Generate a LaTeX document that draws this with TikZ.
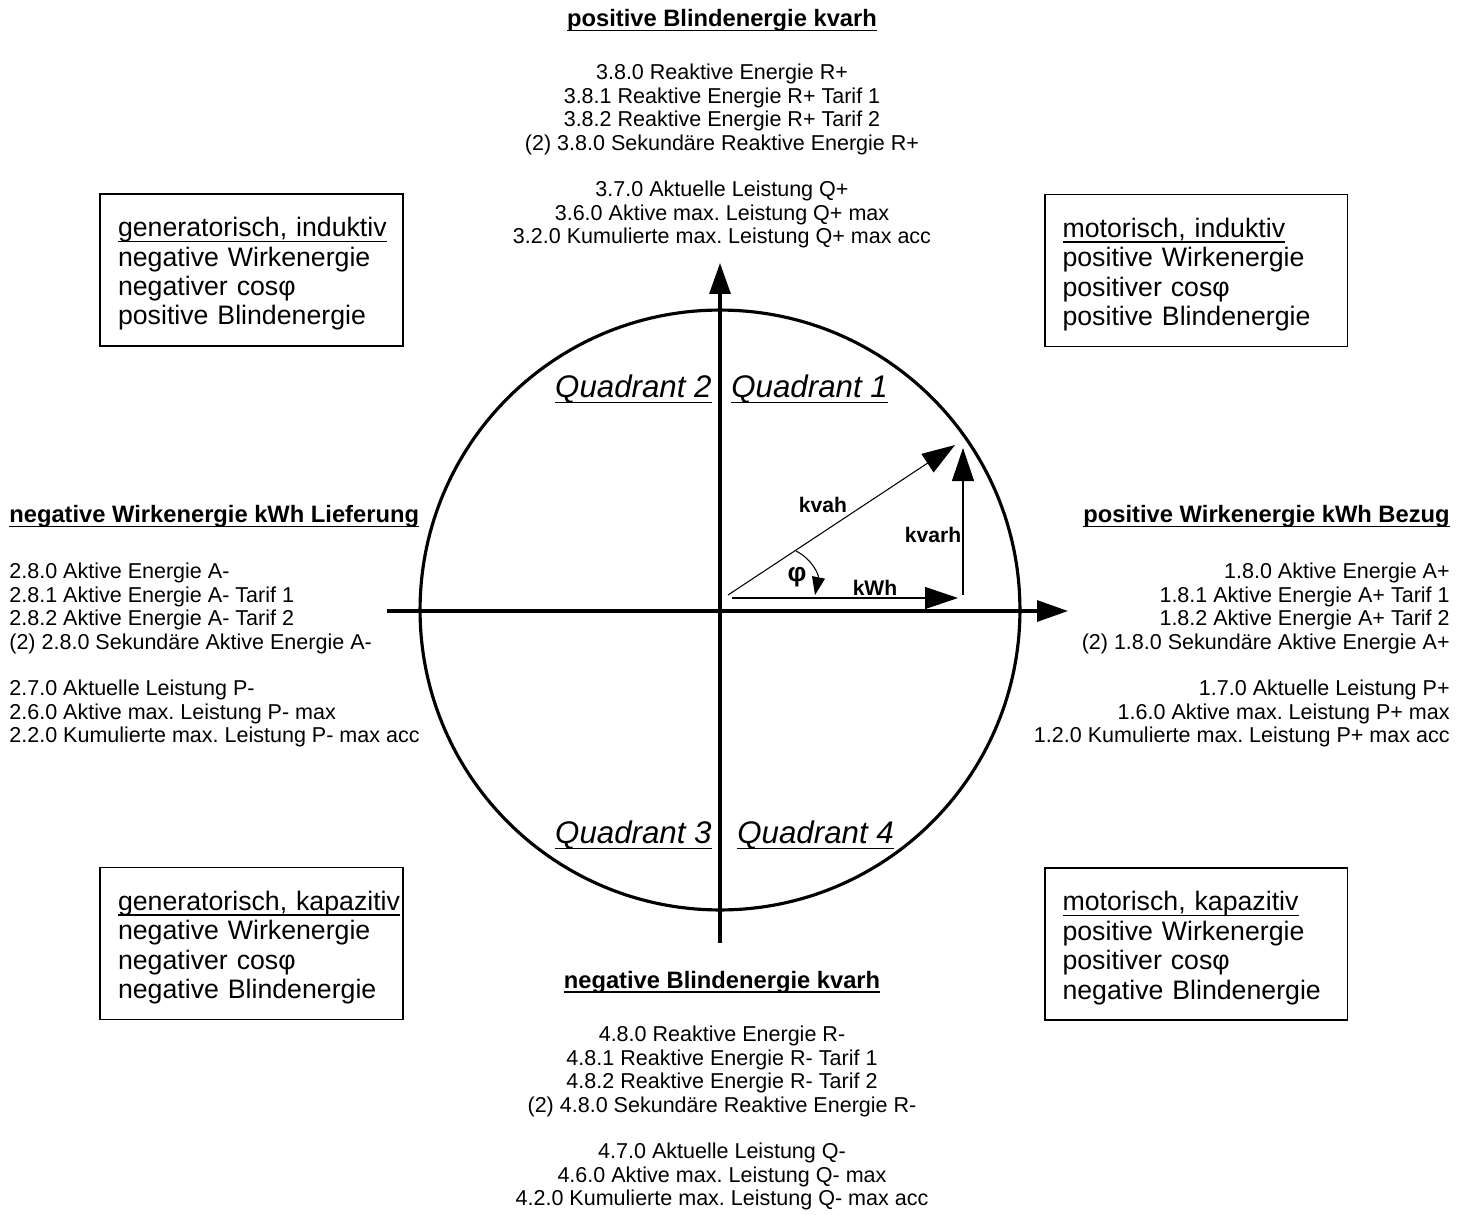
\documentclass[tikz,border=0pt]{standalone}
\usepackage{fontspec}
\setmainfont{Liberation Sans}
\usetikzlibrary{arrows.meta}
\frenchspacing

\newcommand{\ulx}[1]{\setbox0=\hbox{#1}\leavevmode\rlap{\rule[-0.19em]{\wd0}{0.8pt}}\box0}

\begin{document}
\begin{tikzpicture}[x=0.02cm, y=-0.02cm,
  achse/.style={line width=1.8pt, -{Triangle[length=0.62cm,width=0.42cm]}},
  zeiger/.style={line width=0.6pt, -{Triangle[length=0.66cm,width=0.44cm]}},
  kasten/.style={draw, line width=1.1pt, minimum width=6.06cm, minimum height=3.04cm,
    text width=5.34cm, inner xsep=0.36cm, inner ysep=0pt, align=left,
    font=\fontsize{15.2}{16.7}\selectfont},
  titel/.style={inner sep=0pt, font=\fontsize{13.5}{15.5}\bfseries\selectfont},
  liste/.style={inner sep=0pt, font=\fontsize{12.25}{13.3}\selectfont},
  quadrant/.style={inner sep=0pt, font=\fontsize{17.8}{20}\itshape\selectfont},
  wert/.style={inner sep=0pt, font=\fontsize{12}{14}\bfseries\selectfont}]
  \useasboundingbox (0,0) rectangle (1467,1214);

  \coordinate (M) at (720,610);
  \coordinate (W) at (387,611);
  \coordinate (E) at (1068,611);
  \coordinate (S) at (720,943);
  \coordinate (N) at (720,263);
  \draw[line width=1.8pt] (M) circle[radius=6cm];
  \draw[achse] (W) -- (E);
  \draw[achse] (S) -- (N);

  \coordinate (O) at (728,595);
  \coordinate (A) at (955,445);
  \coordinate (B0) at (732,598);
  \coordinate (B) at (958,598);
  \coordinate (C0) at (963,595);
  \coordinate (C) at (963,448);
  \coordinate (F0) at (796,551);
  \coordinate (F) at (815,595);
  \draw[zeiger] (O) -- (A);
  \draw[zeiger] (B0) -- (B);
  \draw[zeiger] (C0) -- (C);
  \draw[line width=0.6pt, -{Triangle[length=0.36cm,width=0.26cm]}]
    (F0) .. controls (812,559) and (819,575) .. (F);
  \node[wert] (kvah) at (823,505) {kvah};
  \node[wert] (kvarh) at (933,535) {kvarh};
  \node[wert] (kwh) at (875,588) {kWh};
  \node[wert, font=\fontsize{15}{17}\bfseries\selectfont] (phi) at (797,577) {φ};

  \node[quadrant, anchor=base east] (Q2) at (712,397) {\ulx{Quadrant 2}};
  \node[quadrant, anchor=base west] (Q1) at (731,397) {\ulx{Quadrant 1}};
  \node[quadrant, anchor=base east] (Q3) at (712,843) {\ulx{Quadrant 3}};
  \node[quadrant, anchor=base west] (Q4) at (737,843) {\ulx{Quadrant 4}};

  \node[kasten] (box2) at (251.5,270) {\rule{0pt}{1.03em}\ulx{generatorisch, induktiv}\\negative Wirkenergie\\negativer cosφ\\positive Blindenergie};
  \node[kasten] (box1) at (1196,270.5) {\rule{0pt}{1.03em}\ulx{motorisch, induktiv}\\positive Wirkenergie\\positiver cosφ\\positive Blindenergie};
  \node[kasten] (box3) at (251.5,943.5) {\rule{0pt}{1.03em}\ulx{generatorisch, kapazitiv}\\negative Wirkenergie\\negativer cosφ\\negative Blindenergie};
  \node[kasten] (box4) at (1196,944) {\rule{0pt}{1.03em}\ulx{motorisch, kapazitiv}\\positive Wirkenergie\\positiver cosφ\\negative Blindenergie};

  \node[titel, anchor=base] (titelN) at (722,26.5) {\ulx{positive Blindenergie kvarh}};
  \node[liste, align=center, anchor=north] (listeN) at (722,64) {3.8.0 Reaktive Energie R+\\3.8.1 Reaktive Energie R+ Tarif 1\\3.8.2 Reaktive Energie R+ Tarif 2\\(2) 3.8.0 Sekundäre Reaktive Energie R+\\[13.3pt]3.7.0 Aktuelle Leistung Q+\\3.6.0 Aktive max. Leistung Q+ max\\3.2.0 Kumulierte max. Leistung Q+ max acc};

  \node[titel, anchor=base] (titelS) at (722,988) {\ulx{negative Blindenergie kvarh}};
  \node[liste, align=center, anchor=north] (listeS) at (722,1026) {4.8.0 Reaktive Energie R-\\4.8.1 Reaktive Energie R- Tarif 1\\4.8.2 Reaktive Energie R- Tarif 2\\(2) 4.8.0 Sekundäre Reaktive Energie R-\\[13.3pt]4.7.0 Aktuelle Leistung Q-\\4.6.0 Aktive max. Leistung Q- max\\4.2.0 Kumulierte max. Leistung Q- max acc};

  \node[titel, anchor=base west] (titelW) at (9,522.5) {\ulx{negative Wirkenergie kWh Lieferung}};
  \node[liste, align=left, anchor=north west] (listeW) at (9,563) {2.8.0 Aktive Energie A-\\2.8.1 Aktive Energie A- Tarif 1\\2.8.2 Aktive Energie A- Tarif 2\\(2) 2.8.0 Sekundäre Aktive Energie A-\\[13.3pt]2.7.0 Aktuelle Leistung P-\\2.6.0 Aktive max. Leistung P- max\\2.2.0 Kumulierte max. Leistung P- max acc};

  \node[titel, anchor=base east] (titelE) at (1450,522.5) {\ulx{positive Wirkenergie kWh Bezug}};
  \node[liste, align=right, anchor=north east] (listeE) at (1450,563) {1.8.0 Aktive Energie A+\\1.8.1 Aktive Energie A+ Tarif 1\\1.8.2 Aktive Energie A+ Tarif 2\\(2) 1.8.0 Sekundäre Aktive Energie A+\\[13.3pt]1.7.0 Aktuelle Leistung P+\\1.6.0 Aktive max. Leistung P+ max\\1.2.0 Kumulierte max. Leistung P+ max acc};
\end{tikzpicture}
\end{document}
